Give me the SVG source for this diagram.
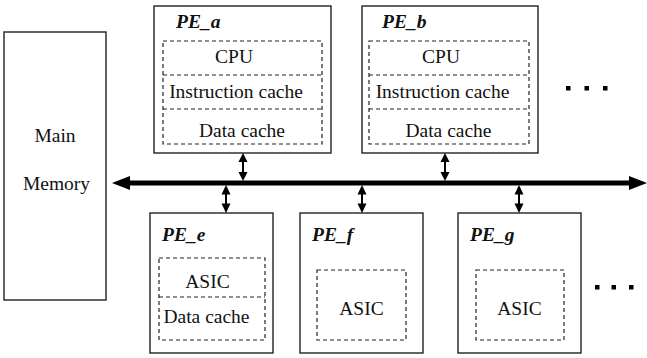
<svg xmlns="http://www.w3.org/2000/svg" width="647" height="358" viewBox="0 0 647 358">
<style>
.box{fill:#fff;stroke:#222;stroke-width:1.4}
.dash{fill:none;stroke:#222;stroke-width:1.2;stroke-dasharray:4 3}
.t{font-family:'Liberation Serif','DejaVu Serif',serif;font-size:19.5px;fill:#111;text-anchor:middle}
.lbl{font-family:'Liberation Serif','DejaVu Serif',serif;font-size:19.5px;font-weight:bold;font-style:italic;fill:#111}
.sh{stroke:#000;stroke-width:2}
.hd{fill:#000}
.dot{fill:#000}
</style>
<rect width="647" height="358" fill="#fff"/>
<g id="main-memory">
<rect class="box" x="4" y="32" width="102" height="268"/>
<text class="t" x="55" y="142">Main</text>
<text class="t" x="56.5" y="190">Memory</text>
</g>
<g id="pe_a">
<rect class="box" x="154" y="6" width="177" height="147"/>
<text class="lbl" x="176" y="28">PE_a</text>
<rect class="dash" x="163" y="41" width="159" height="103"/>
<line class="dash" x1="163" y1="75" x2="322" y2="75"/>
<line class="dash" x1="163" y1="109" x2="322" y2="109"/>
<text class="t" x="234" y="63">CPU</text>
<text class="t" x="236" y="98">Instruction cache</text>
<text class="t" x="242" y="137">Data cache</text>
</g>
<g id="pe_b">
<rect class="box" x="362" y="6" width="176" height="147"/>
<text class="lbl" x="382" y="28">PE_b</text>
<rect class="dash" x="369" y="41" width="160" height="103"/>
<line class="dash" x1="369" y1="75" x2="529" y2="75"/>
<line class="dash" x1="369" y1="109" x2="529" y2="109"/>
<text class="t" x="441" y="63">CPU</text>
<text class="t" x="442.5" y="98">Instruction cache</text>
<text class="t" x="448.5" y="137">Data cache</text>
</g>
<g id="dots-top">
<rect class="dot" x="566" y="86" width="4.5" height="4.5"/>
<rect class="dot" x="584.5" y="86" width="4.5" height="4.5"/>
<rect class="dot" x="603" y="86" width="4.5" height="4.5"/>
</g>
<g id="pe_e">
<rect class="box" x="150" y="213" width="123" height="140"/>
<text class="lbl" x="162" y="241">PE_e</text>
<rect class="dash" x="159" y="258" width="106" height="82"/>
<line class="dash" x1="159" y1="297" x2="265" y2="297"/>
<text class="t" x="207.5" y="288">ASIC</text>
<text class="t" x="206.5" y="323">Data cache</text>
</g>
<g id="pe_f">
<rect class="box" x="300" y="213" width="123" height="140"/>
<text class="lbl" x="312" y="241">PE_f</text>
<rect class="dash" x="317" y="270" width="89" height="70"/>
<text class="t" x="361.5" y="315">ASIC</text>
</g>
<g id="pe_g">
<rect class="box" x="458" y="213" width="123" height="140"/>
<text class="lbl" x="470" y="241">PE_g</text>
<rect class="dash" x="476" y="270" width="88" height="70"/>
<text class="t" x="519.5" y="315">ASIC</text>
</g>
<g id="dots-bottom">
<rect class="dot" x="595" y="285" width="4.5" height="4.5"/>
<rect class="dot" x="611.5" y="285" width="4.5" height="4.5"/>
<rect class="dot" x="629" y="285" width="4.5" height="4.5"/>
</g>
<g id="connectors">
<line x1="128" y1="183" x2="631" y2="183" stroke="#000" stroke-width="5"/>
<polygon class="hd" points="112,183 130,176 130,190"/>
<polygon class="hd" points="647,183 629,176 629,190"/>
<line class="sh" x1="243" y1="160" x2="243" y2="174"/>
<polygon class="hd" points="243,153 247.5,162 238.5,162"/>
<polygon class="hd" points="243,181 247.5,172 238.5,172"/>
<line class="sh" x1="445" y1="160" x2="445" y2="174"/>
<polygon class="hd" points="445,153 449.5,162 440.5,162"/>
<polygon class="hd" points="445,181 449.5,172 440.5,172"/>
<line class="sh" x1="226" y1="193" x2="226" y2="206"/>
<polygon class="hd" points="226,185 230.5,194.5 221.5,194.5"/>
<polygon class="hd" points="226,213 230.5,203.5 221.5,203.5"/>
<line class="sh" x1="362" y1="193" x2="362" y2="206"/>
<polygon class="hd" points="362,185 366.5,194.5 357.5,194.5"/>
<polygon class="hd" points="362,213 366.5,203.5 357.5,203.5"/>
<line class="sh" x1="519" y1="193" x2="519" y2="206"/>
<polygon class="hd" points="519,185 523.5,194.5 514.5,194.5"/>
<polygon class="hd" points="519,213 523.5,203.5 514.5,203.5"/>
</g>
</svg>
